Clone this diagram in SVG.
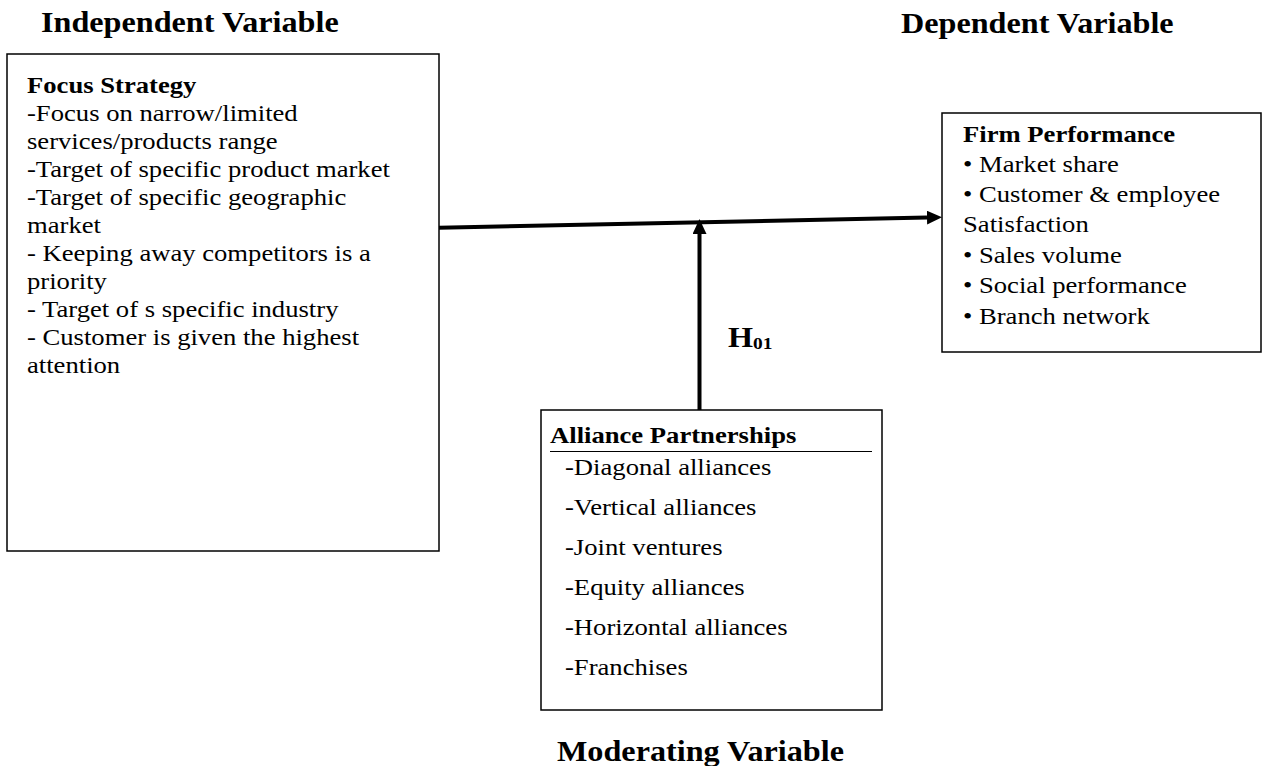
<svg xmlns="http://www.w3.org/2000/svg" width="1262" height="766" viewBox="0 0 1262 766">
<style>
  .box { fill: #ffffff; stroke: #000000; stroke-width: 1.5; }
  .t { font-family: "Liberation Serif", "Times New Roman", serif; fill: #000000; font-size: 24px; }
  .b { font-weight: bold; }
  .title { font-family: "Liberation Serif", "Times New Roman", serif; font-weight: bold; font-size: 29px; fill: #000000; }
  .conn { stroke: #000000; stroke-width: 4; fill: none; }
</style>
<defs>
  <marker id="arrow" viewBox="0 0 15 14" refX="0" refY="7" markerWidth="15" markerHeight="14" markerUnits="userSpaceOnUse" orient="auto">
    <path d="M0,0 L15,7 L0,14 z" fill="#000000"/>
  </marker>
</defs>
<rect width="1262" height="766" fill="#ffffff"/>

<g id="title-independent" transform="translate(41,0) scale(1.11,1)">
  <text class="title" x="0" y="32">Independent Variable</text>
</g>
<g id="title-dependent" transform="translate(901,0) scale(1.11,1)">
  <text class="title" x="0" y="33">Dependent Variable</text>
</g>
<g id="title-moderating" transform="translate(557,0) scale(1.11,1)">
  <text class="title" x="0" y="761">Moderating Variable</text>
</g>

<g id="focus-strategy">
  <rect class="box" x="7" y="54" width="432" height="497"/>
  <g transform="translate(27,0) scale(1.11,1)">
    <text class="t b" x="0" y="93">Focus Strategy</text>
    <text class="t" x="0" y="121">-Focus on narrow/limited</text>
    <text class="t" x="0" y="149">services/products range</text>
    <text class="t" x="0" y="177">-Target of specific product market</text>
    <text class="t" x="0" y="205">-Target of specific geographic</text>
    <text class="t" x="0" y="233">market</text>
    <text class="t" x="0" y="261">- Keeping away competitors is a</text>
    <text class="t" x="0" y="289">priority</text>
    <text class="t" x="0" y="317">- Target of s specific industry</text>
    <text class="t" x="0" y="345">- Customer is given the highest</text>
    <text class="t" x="0" y="373">attention</text>
  </g>
</g>

<g id="firm-performance">
  <rect class="box" x="942" y="113" width="319" height="239"/>
  <g transform="translate(963,0) scale(1.11,1)">
    <text class="t b" x="0" y="142">Firm Performance</text>
    <text class="t" x="0" y="172.3">• Market share</text>
    <text class="t" x="0" y="202.3">• Customer &amp; employee</text>
    <text class="t" x="0" y="232.3">Satisfaction</text>
    <text class="t" x="0" y="263.3">• Sales volume</text>
    <text class="t" x="0" y="293.3">• Social performance</text>
    <text class="t" x="0" y="324.3">• Branch network</text>
  </g>
</g>

<g id="alliance-partnerships">
  <rect class="box" x="541" y="410" width="341" height="300"/>
  <line x1="550" y1="451.5" x2="872" y2="451.5" stroke="#000000" stroke-width="1.2"/>
  <g transform="translate(550,0) scale(1.11,1)">
    <text class="t b" x="0" y="443">Alliance Partnerships</text>
  </g>
  <g transform="translate(565,0) scale(1.11,1)">
    <text class="t" x="0" y="475">-Diagonal alliances</text>
    <text class="t" x="0" y="515">-Vertical alliances</text>
    <text class="t" x="0" y="555">-Joint ventures</text>
    <text class="t" x="0" y="595">-Equity alliances</text>
    <text class="t" x="0" y="635">-Horizontal alliances</text>
    <text class="t" x="0" y="675">-Franchises</text>
  </g>
</g>

<g id="connectors">
  <line class="conn" x1="439" y1="227.7" x2="927" y2="217.6" marker-end="url(#arrow)"/>
  <line class="conn" x1="699.5" y1="410" x2="699.5" y2="234" marker-end="url(#arrow)"/>
</g>

<g id="label-h01" transform="translate(728,0) scale(1.11,1)">
  <text class="title" x="0" y="347">H<tspan font-size="17.5px" dy="2">01</tspan></text>
</g>
</svg>
